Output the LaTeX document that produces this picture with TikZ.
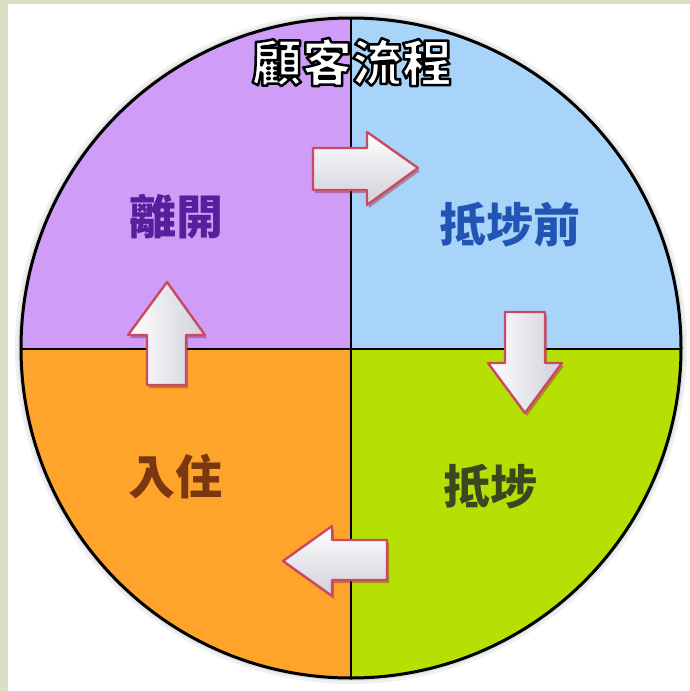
\documentclass[tikz,border=0pt]{standalone}
\usepackage{fontspec}
\newfontfamily\cjk{Noto Sans CJK TC}
\definecolor{bgstrip}{HTML}{D9E1C5}
\definecolor{qpurple}{HTML}{CF9DF7}
\definecolor{qblue}{HTML}{A9D4FA}
\definecolor{qgreen}{HTML}{B6E004}
\definecolor{qorange}{HTML}{FFA42A}
\definecolor{tpurple}{HTML}{5A1E9C}
\definecolor{tblue}{HTML}{2155B4}
\definecolor{tgreen}{HTML}{3A4820}
\definecolor{torange}{HTML}{7A3812}
\definecolor{arrowedge}{HTML}{C94A62}
\definecolor{arrowshade}{HTML}{9A2A3A}
\definecolor{arrowgray}{HTML}{CFD0DA}
\newcommand{\outlinedtext}[1]{\special{pdf:literal direct 0 G 2.5 w 1 j 2 Tr}#1\special{pdf:literal direct 0 Tr}}
\tikzset{
  label/.style={font=\cjk\bfseries\fontsize{47}{47}\selectfont, inner sep=0pt},
  blockarrow/.style={draw=arrowedge, line width=2.4pt, line join=round},
  arrowshadow/.style={fill=arrowshade, opacity=0.45},
}
\begin{document}
\begin{tikzpicture}[x=1pt,y=-1pt]
\useasboundingbox (0,0) rectangle (690,691);
\fill[white] (0,0) rectangle (690,691);
\fill[bgstrip] (0,0) rectangle (8,691);
\fill[bgstrip] (0,0) rectangle (690,4);
% soft halo
\fill[black,opacity=0.06] (351,348) circle (336pt);
\fill[black,opacity=0.06] (351,348) circle (333pt);
% quadrants
\begin{scope}
\clip (351,348) circle (330pt);
\fill[qpurple] (0,0) rectangle (351,349);
\fill[qblue] (351,0) rectangle (690,349);
\fill[qgreen] (351,349) rectangle (690,691);
\fill[qorange] (0,349) rectangle (351,691);
\draw[line width=2pt] (351,0) -- (351,691);
\draw[line width=2pt] (0,349) -- (690,349);
\end{scope}
\draw[line width=3pt] (351,348) circle (330pt);
% title
\node[font=\cjk\bfseries\fontsize{50}{50}\selectfont, text=white, inner sep=0pt] (title) at (352,62) {\outlinedtext{顧客流程}};
% labels
\node[label, text=tpurple] (leave) at (176,217) {離開};
\node[label, text=tblue] (before) at (510,225) {抵埗前};
\node[label, text=tgreen] (arrive) at (490,487) {抵埗};
\node[label, text=torange] (stay) at (175,476) {入住};
% right arrow (top)
\fill[arrowshadow, shift={(2,3)}] (313,148) -- (367,148) -- (367,132) -- (418,168) -- (367,205) -- (367,190) -- (313,190) -- cycle;
\shade[blockarrow, top color=white, bottom color=arrowgray] (313,148) -- (367,148) -- (367,132) -- (418,168) -- (367,205) -- (367,190) -- (313,190) -- cycle;
% down arrow (right)
\fill[arrowshadow, shift={(2,3)}] (505,312) -- (545,312) -- (545,363) -- (562,363) -- (525,413) -- (488,363) -- (505,363) -- cycle;
\shade[blockarrow, left color=white, right color=arrowgray] (505,312) -- (545,312) -- (545,363) -- (562,363) -- (525,413) -- (488,363) -- (505,363) -- cycle;
% left arrow (bottom)
\fill[arrowshadow, shift={(2,3)}] (387,540) -- (332,540) -- (332,526) -- (283,561) -- (332,596) -- (332,580) -- (387,580) -- cycle;
\shade[blockarrow, top color=white, bottom color=arrowgray] (387,540) -- (332,540) -- (332,526) -- (283,561) -- (332,596) -- (332,580) -- (387,580) -- cycle;
% up arrow (left)
\fill[arrowshadow, shift={(2,3)}] (147,385) -- (147,335) -- (128,335) -- (167,282) -- (205,335) -- (186,335) -- (186,385) -- cycle;
\shade[blockarrow, left color=white, right color=arrowgray] (147,385) -- (147,335) -- (128,335) -- (167,282) -- (205,335) -- (186,335) -- (186,385) -- cycle;
\end{tikzpicture}
\end{document}
